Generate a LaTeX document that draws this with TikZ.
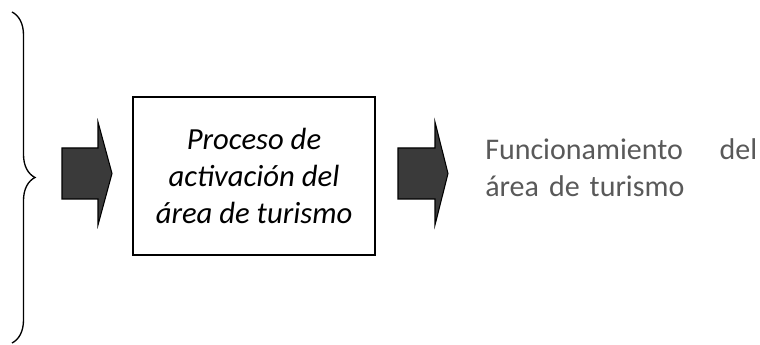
\documentclass[tikz,border=0pt]{standalone}
\usepackage{fontspec}
\setmainfont{Carlito}
\usetikzlibrary{decorations.pathreplacing, positioning}
\definecolor{txtgray}{HTML}{595959}
\definecolor{arrowfill}{HTML}{3A3A3A}

\begin{document}
\begin{tikzpicture}[
  x=0.75pt, y=-0.75pt,
  every node/.style={font=\fontsize{22.5}{27.75}\selectfont},
  procbox/.style={rectangle, draw, line width=1pt, minimum width=181.5pt, minimum height=118.5pt, align=center, font=\fontsize{23}{27.75}\selectfont\itshape},
  blockarrow/.style={draw=black, fill=arrowfill, line width=0.8pt, line join=miter},
]
\useasboundingbox (0,0) rectangle (760,345);

% Brace over the inputs
\draw[decorate, decoration={brace, amplitude=17.25pt}, line width=1pt] (12,12) -- (12,343);

% Process box
\node[procbox] (proc) at (254,176) {Proceso de\\activación del\\área de turismo};

% Block arrows
\draw[blockarrow] (62,148) -- (98,148) -- (98,122) -- (112,173.5) -- (98,225) -- (98,199) -- (62,199) -- cycle;
\draw[blockarrow] (398,148) -- (435,148) -- (435,122) -- (448,173.5) -- (435,225) -- (435,199) -- (398,199) -- cycle;

% Result
\node[text=txtgray, text width=204pt, align=left, inner sep=0pt, anchor=base west] (result) at (485,160) {Funcionamiento\hfill del\\área de turismo};

\end{tikzpicture}
\end{document}
